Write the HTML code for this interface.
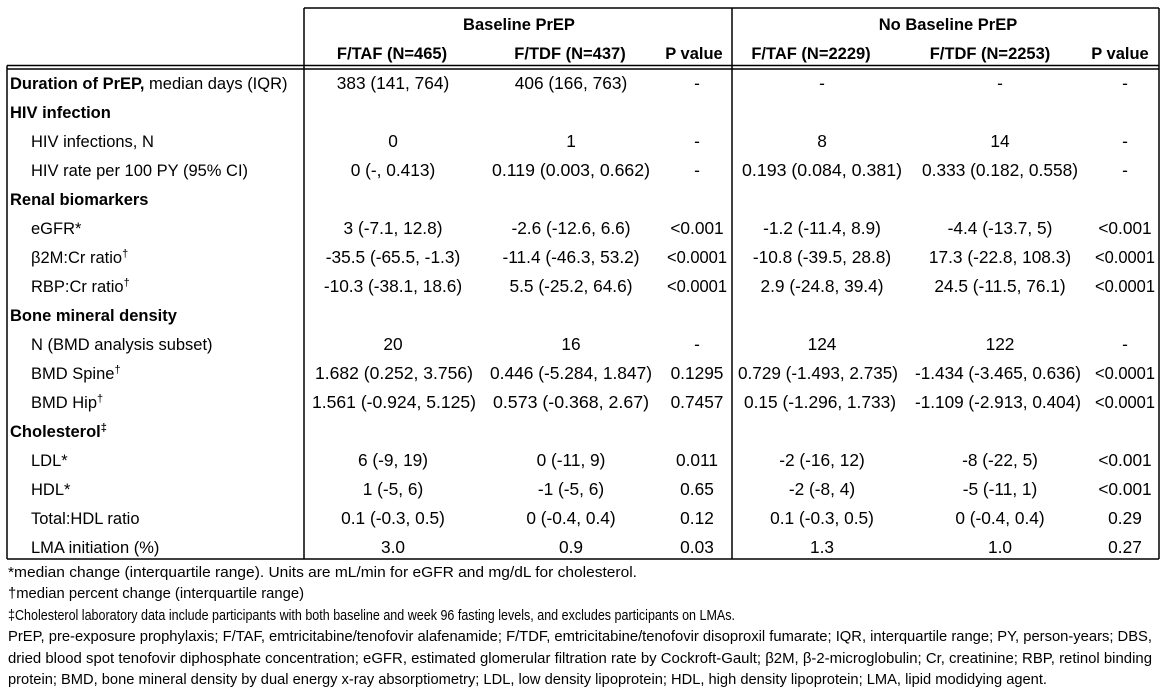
<!DOCTYPE html>
<html><head><meta charset="utf-8"><style>
html,body{margin:0;padding:0;background:#fff;}
svg{display:block;}
text{font-family:"Liberation Sans",sans-serif;font-size:16.5px;fill:#000;}
.b{font-weight:bold;}
.f{font-size:15px;}
.n text{font-size:17.3px;}
</style></head><body>
<svg width="1168" height="690" viewBox="0 0 1168 690">
<g stroke="#000" stroke-width="1.5" fill="none">
<line x1="304" y1="8" x2="1159" y2="8"/>
<line x1="304" y1="8" x2="304" y2="559"/>
<line x1="732" y1="8" x2="732" y2="559"/>
<line x1="7" y1="65.5" x2="1159" y2="65.5"/>
<line x1="7" y1="69" x2="1159" y2="69"/>
<line x1="7" y1="65.5" x2="7" y2="559"/>
<line x1="1159" y1="8" x2="1159" y2="559"/>
<line x1="7" y1="559" x2="1159" y2="559"/>
</g>
<g text-anchor="middle">
<text class="b" x="519" y="30">Baseline PrEP</text>
<text class="b" x="948" y="30">No Baseline PrEP</text>
<text class="b" x="392" y="59">F/TAF (N=465)</text>
<text class="b" x="570" y="59">F/TDF (N=437)</text>
<text class="b" x="694" y="59">P value</text>
<text class="b" x="811" y="59">F/TAF (N=2229)</text>
<text class="b" x="990" y="59">F/TDF (N=2253)</text>
<text class="b" x="1120" y="59">P value</text>
</g>
<g>
<text x="10" y="89"><tspan class="b">Duration of PrEP,</tspan> median days (IQR)</text>
<text class="b" x="10" y="118">HIV infection</text>
<text x="31" y="147">HIV infections, N</text>
<text x="31" y="176">HIV rate per 100 PY (95% CI)</text>
<text class="b" x="10" y="205">Renal biomarkers</text>
<text x="31" y="234">eGFR*</text>
<text x="31" y="263">β2M:Cr ratio<tspan font-size="11" dy="-6">†</tspan></text>
<text x="31" y="292">RBP:Cr ratio<tspan font-size="11" dy="-6">†</tspan></text>
<text class="b" x="10" y="321">Bone mineral density</text>
<text x="31" y="350">N (BMD analysis subset)</text>
<text x="31" y="379">BMD Spine<tspan font-size="11" dy="-6">†</tspan></text>
<text x="31" y="408">BMD Hip<tspan font-size="11" dy="-6">†</tspan></text>
<text class="b" x="10" y="437">Cholesterol<tspan font-size="11" dy="-6">‡</tspan></text>
<text x="31" y="466">LDL*</text>
<text x="31" y="495">HDL*</text>
<text x="31" y="524">Total:HDL ratio</text>
<text x="31" y="553">LMA initiation (%)</text>
</g>
<g text-anchor="middle" class="n">
<text x="393" y="89">383 (141, 764)</text><text x="571" y="89">406 (166, 763)</text><text x="697" y="89">-</text><text x="822" y="89">-</text><text x="1000" y="89">-</text><text x="1125" y="89">-</text>
<text x="393" y="147">0</text><text x="571" y="147">1</text><text x="697" y="147">-</text><text x="822" y="147">8</text><text x="1000" y="147">14</text><text x="1125" y="147">-</text>
<text x="393" y="176">0 (-, 0.413)</text><text x="571" y="176" textLength="158" lengthAdjust="spacingAndGlyphs">0.119 (0.003, 0.662)</text><text x="697" y="176">-</text><text x="822" y="176" textLength="160" lengthAdjust="spacingAndGlyphs">0.193 (0.084, 0.381)</text><text x="1000" y="176" textLength="156" lengthAdjust="spacingAndGlyphs">0.333 (0.182, 0.558)</text><text x="1125" y="176">-</text>
<text x="393" y="234">3 (-7.1, 12.8)</text><text x="571" y="234">-2.6 (-12.6, 6.6)</text><text x="697" y="234">&lt;0.001</text><text x="822" y="234">-1.2 (-11.4, 8.9)</text><text x="1000" y="234">-4.4 (-13.7, 5)</text><text x="1125" y="234">&lt;0.001</text>
<text x="393" y="263">-35.5 (-65.5, -1.3)</text><text x="571" y="263">-11.4 (-46.3, 53.2)</text><text x="697" y="263" textLength="60" lengthAdjust="spacingAndGlyphs">&lt;0.0001</text><text x="822" y="263">-10.8 (-39.5, 28.8)</text><text x="1000" y="263">17.3 (-22.8, 108.3)</text><text x="1125" y="263" textLength="60" lengthAdjust="spacingAndGlyphs">&lt;0.0001</text>
<text x="393" y="292">-10.3 (-38.1, 18.6)</text><text x="571" y="292">5.5 (-25.2, 64.6)</text><text x="697" y="292" textLength="60" lengthAdjust="spacingAndGlyphs">&lt;0.0001</text><text x="822" y="292">2.9 (-24.8, 39.4)</text><text x="1000" y="292">24.5 (-11.5, 76.1)</text><text x="1125" y="292" textLength="60" lengthAdjust="spacingAndGlyphs">&lt;0.0001</text>
<text x="393" y="350">20</text><text x="571" y="350">16</text><text x="697" y="350">-</text><text x="822" y="350">124</text><text x="1000" y="350">122</text><text x="1125" y="350">-</text>
<text x="394" y="379" textLength="158" lengthAdjust="spacingAndGlyphs">1.682 (0.252, 3.756)</text><text x="571" y="379" textLength="162" lengthAdjust="spacingAndGlyphs">0.446 (-5.284, 1.847)</text><text x="697" y="379">0.1295</text><text x="818" y="379" textLength="160" lengthAdjust="spacingAndGlyphs">0.729 (-1.493, 2.735)</text><text x="998" y="379" textLength="166" lengthAdjust="spacingAndGlyphs">-1.434 (-3.465, 0.636)</text><text x="1125" y="379" textLength="60" lengthAdjust="spacingAndGlyphs">&lt;0.0001</text>
<text x="394" y="408" textLength="164" lengthAdjust="spacingAndGlyphs">1.561 (-0.924, 5.125)</text><text x="571" y="408" textLength="156" lengthAdjust="spacingAndGlyphs">0.573 (-0.368, 2.67)</text><text x="697" y="408">0.7457</text><text x="820" y="408" textLength="152" lengthAdjust="spacingAndGlyphs">0.15 (-1.296, 1.733)</text><text x="998" y="408" textLength="166" lengthAdjust="spacingAndGlyphs">-1.109 (-2.913, 0.404)</text><text x="1125" y="408" textLength="60" lengthAdjust="spacingAndGlyphs">&lt;0.0001</text>
<text x="393" y="466">6 (-9, 19)</text><text x="571" y="466">0 (-11, 9)</text><text x="697" y="466">0.011</text><text x="822" y="466">-2 (-16, 12)</text><text x="1000" y="466">-8 (-22, 5)</text><text x="1125" y="466">&lt;0.001</text>
<text x="393" y="495">1 (-5, 6)</text><text x="571" y="495">-1 (-5, 6)</text><text x="697" y="495">0.65</text><text x="822" y="495">-2 (-8, 4)</text><text x="1000" y="495">-5 (-11, 1)</text><text x="1125" y="495">&lt;0.001</text>
<text x="393" y="524">0.1 (-0.3, 0.5)</text><text x="571" y="524">0 (-0.4, 0.4)</text><text x="697" y="524">0.12</text><text x="822" y="524">0.1 (-0.3, 0.5)</text><text x="1000" y="524">0 (-0.4, 0.4)</text><text x="1125" y="524">0.29</text>
<text x="393" y="553">3.0</text><text x="571" y="553">0.9</text><text x="697" y="553">0.03</text><text x="822" y="553">1.3</text><text x="1000" y="553">1.0</text><text x="1125" y="553">0.27</text>
</g>
<g>
<text class="f" x="8" y="577" textLength="629" lengthAdjust="spacingAndGlyphs">*median change (interquartile range).  Units are mL/min for eGFR and mg/dL for cholesterol.</text>
<text class="f" x="8" y="598" textLength="296" lengthAdjust="spacingAndGlyphs">†median percent change (interquartile range)</text>
<text class="f" x="8" y="620" textLength="727" lengthAdjust="spacingAndGlyphs">‡Cholesterol laboratory data include participants with both baseline and week 96 fasting levels, and excludes participants on LMAs.</text>
<text class="f" x="8" y="641" textLength="1144" lengthAdjust="spacingAndGlyphs">PrEP, pre-exposure prophylaxis; F/TAF, emtricitabine/tenofovir alafenamide; F/TDF, emtricitabine/tenofovir disoproxil fumarate; IQR, interquartile range; PY, person-years; DBS,</text>
<text class="f" x="8" y="663" textLength="1144" lengthAdjust="spacingAndGlyphs">dried blood spot tenofovir diphosphate concentration; eGFR, estimated glomerular filtration rate by Cockroft-Gault; β2M, β-2-microglobulin; Cr, creatinine; RBP, retinol binding</text>
<text class="f" x="8" y="684" textLength="1039" lengthAdjust="spacingAndGlyphs">protein; BMD, bone mineral density by dual energy x-ray absorptiometry; LDL, low density lipoprotein; HDL, high density lipoprotein; LMA, lipid modidying agent.</text>
</g>
</svg>
</body></html>
